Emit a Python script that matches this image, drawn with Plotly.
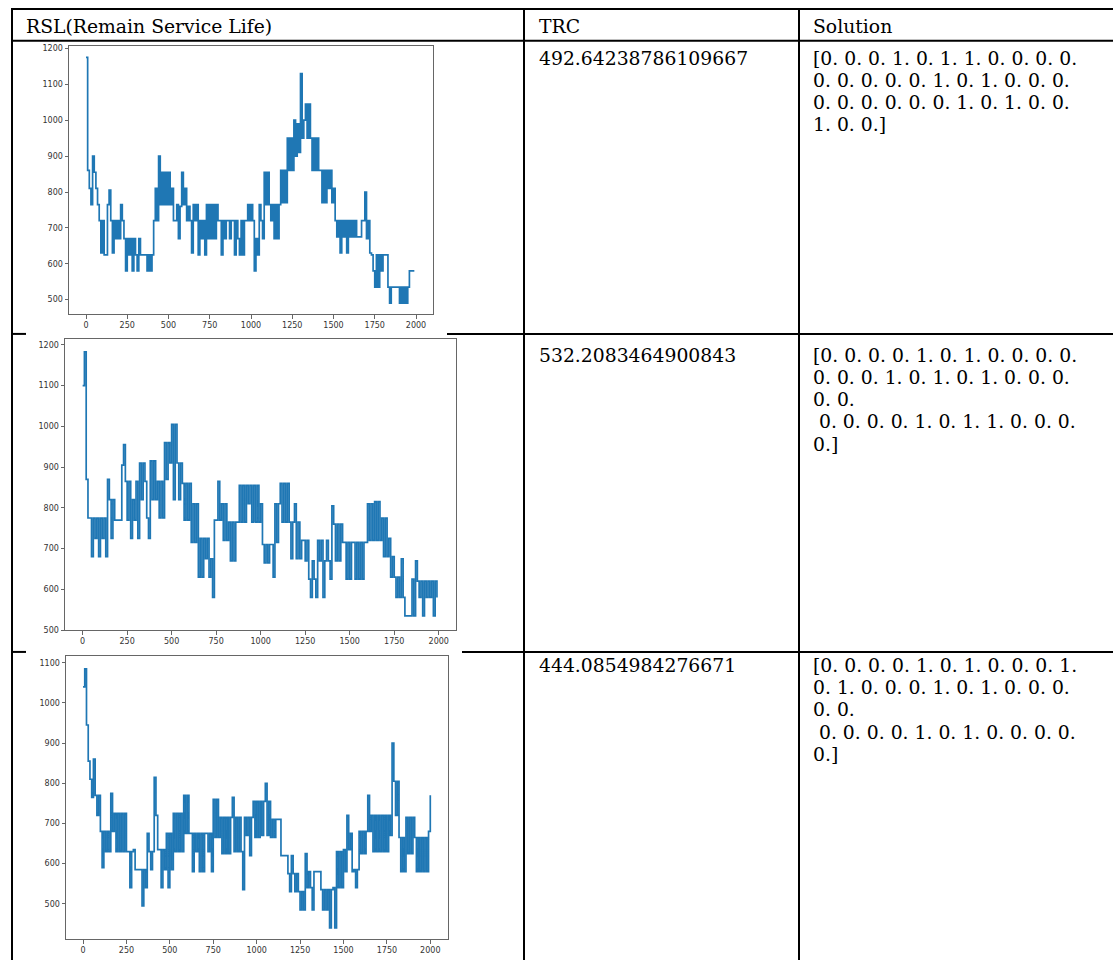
import plotly.graph_objects as go

W, H = 1113, 965

# ---------------- data ----------------
x_ticks = [0, 250, 500, 750, 1000, 1250, 1500, 1750, 2000]
y_ticks_12 = [500, 600, 700, 800, 900, 1000, 1100, 1200]
y_ticks_3 = [500, 600, 700, 800, 900, 1000, 1100]
sample_step = 10  # one value every 10 iterations

rsl_1 = [
    1175, 860, 810, 765, 900, 855, 810, 765, 720, 630,
    720, 625, 625, 765, 805, 720, 630, 720, 670, 720,
    670, 765, 720, 670, 580, 670, 625, 670, 580, 670,
    625, 580, 670, 625, 625, 625, 625, 580, 625, 580,
    625, 720, 810, 720, 900, 765, 855, 765, 855, 765,
    855, 765, 810, 720, 720, 765, 670, 760, 855, 765,
    810, 720, 760, 720, 630, 765, 720, 765, 625, 720,
    670, 720, 625, 765, 670, 765, 670, 765, 670, 765,
    720, 720, 625, 720, 670, 720, 720, 670, 720, 720,
    625, 720, 670, 625, 720, 625, 720, 720, 765, 720,
    765, 720, 580, 670, 625, 765, 720, 670, 855, 765,
    855, 765, 720, 765, 670, 765, 670, 765, 860, 770,
    860, 770, 950, 860, 950, 860, 1000, 900, 990, 910,
    1130, 950, 1000, 1045, 950, 1045, 950, 860, 950, 860,
    950, 860, 860, 770, 860, 770, 860, 810, 860, 770,
    810, 720, 675, 720, 630, 720, 675, 720, 630, 720,
    675, 720, 675, 720, 675, 675, 675, 720, 720, 800,
    670, 720, 630, 625, 580, 535, 625, 535, 625, 580,
    625, 625, 625, 535, 490, 535, 535, 535, 535, 535,
    490, 535, 490, 535, 490, 535, 580, 580, 580, 580,
]

rsl_2 = [
    1100, 1183, 870, 775, 775, 680, 775, 725, 775, 680,
    775, 725, 775, 680, 870, 820, 725, 820, 770, 770,
    770, 770, 905, 955, 865, 770, 865, 725, 820, 770,
    865, 725, 910, 820, 910, 865, 775, 725, 915, 820,
    915, 820, 865, 775, 865, 775, 960, 870, 960, 910,
    1005, 820, 1005, 910, 820, 910, 860, 770, 860, 770,
    860, 715, 810, 715, 810, 630, 725, 630, 725, 675,
    725, 630, 675, 580, 770, 770, 865, 770, 810, 720,
    810, 720, 765, 670, 765, 670, 765, 765, 855, 765,
    855, 765, 855, 810, 855, 765, 855, 765, 855, 765,
    810, 710, 665, 710, 665, 710, 710, 630, 810, 715,
    810, 860, 765, 860, 765, 860, 765, 675, 765, 810,
    675, 765, 675, 720, 720, 670, 720, 625, 580, 670,
    625, 580, 720, 670, 720, 580, 670, 720, 670, 625,
    805, 760, 670, 760, 670, 760, 715, 715, 625, 715,
    625, 715, 715, 625, 715, 625, 715, 625, 715, 715,
    810, 720, 810, 720, 815, 720, 815, 720, 775, 680,
    775, 680, 725, 630, 680, 630, 580, 630, 580, 675,
    580, 535, 535, 535, 535, 625, 535, 670, 620, 580,
    620, 535, 620, 580, 620, 580, 620, 535, 620, 580,
]

rsl_3 = [
    1040, 1085, 945, 855, 810, 765, 860, 770, 720, 770,
    680, 590, 680, 630, 680, 630, 775, 680, 725, 630,
    725, 630, 725, 630, 725, 630, 630, 540, 630, 635,
    585, 585, 585, 585, 495, 585, 540, 675, 630, 585,
    630, 815, 720, 635, 635, 540, 635, 585, 675, 540,
    675, 585, 725, 630, 725, 630, 725, 630, 770, 675,
    770, 675, 675, 580, 675, 630, 675, 580, 675, 580,
    675, 675, 630, 675, 580, 760, 665, 760, 665, 715,
    625, 715, 625, 715, 625, 715, 765, 630, 715, 630,
    715, 630, 535, 715, 670, 715, 620, 715, 755, 665,
    755, 665, 755, 670, 755, 800, 670, 755, 665, 710,
    665, 710, 710, 710, 620, 620, 620, 620, 575, 530,
    620, 575, 530, 575, 530, 485, 530, 485, 625, 540,
    580, 540, 485, 580, 580, 580, 580, 535, 485, 535,
    485, 535, 440, 535, 540, 440, 630, 540, 630, 540,
    635, 580, 720, 635, 675, 580, 585, 540, 585, 680,
    625, 680, 625, 680, 770, 680, 720, 630, 720, 630,
    720, 630, 720, 630, 720, 630, 720, 670, 900, 805,
    720, 805, 665, 580, 665, 580, 715, 625, 715, 625,
    715, 665, 580, 665, 580, 665, 580, 665, 580, 680,
    770,
]

header_labels = ["RSL(Remain Service Life)", "TRC", "Solution"]
trc_values = ["492.64238786109667", "532.2083464900843", "444.0854984276671"]
solution_lines = [
    ["[0. 0. 0. 1. 0. 1. 1. 0. 0. 0. 0.",
     "0. 0. 0. 0. 0. 1. 0. 1. 0. 0. 0.",
     "0. 0. 0. 0. 0. 0. 1. 0. 1. 0. 0.",
     "1. 0. 0.]"],
    ["[0. 0. 0. 0. 1. 0. 1. 0. 0. 0. 0.",
     "0. 0. 0. 1. 0. 1. 0. 1. 0. 0. 0.",
     "0. 0.",
     "\u00a00. 0. 0. 0. 1. 0. 1. 1. 0. 0. 0.",
     "0.]"],
    ["[0. 0. 0. 0. 1. 0. 1. 0. 0. 0. 1.",
     "0. 1. 0. 0. 0. 1. 0. 1. 0. 0. 0.",
     "0. 0.",
     "\u00a00. 0. 0. 0. 1. 0. 1. 0. 0. 0. 0.",
     "0.]"],
]

# ---------------- layout helpers ----------------
def px(x):
    return x / W


def py(y):
    return 1 - y / H


# plot areas in page pixels: (left, right, top, bottom)
boxes = [(69, 433, 45, 315), (65, 456, 340, 633), (66, 448, 659, 944)]
x_ranges = [(-103, 2103), (-99, 2097), (-98, 2102)]
y_ranges = [(460, 1207.5), (500, 1214.6), (412, 1117)]
y_tick_sets = [y_ticks_12, y_ticks_12, y_ticks_3]
series = [rsl_1, rsl_2, rsl_3]

fig = go.Figure()
line_color = "#1f77b4"
spine = "#666666"
tickfont = dict(family="DejaVu Sans", size=8, color="#333333")

for k in range(3):
    sx = "" if k == 0 else str(k + 1)
    fig.add_trace(go.Scatter(
        x0=0, dx=sample_step, y=series[k], mode="lines",
        line=dict(color=line_color, width=1.7, shape="hv"),
        xaxis="x" + sx, yaxis="y" + sx, showlegend=False, hoverinfo="skip",
    ))
    l, r, t, b = boxes[k]
    fig.layout["xaxis" + sx] = dict(
        domain=[px(l), px(r)], range=list(x_ranges[k]), anchor="y" + sx,
        tickvals=x_ticks, ticks="outside", ticklen=3.5, tickwidth=1,
        tickcolor=spine, showline=True, mirror=True, linecolor=spine,
        linewidth=1, showgrid=False, zeroline=False, tickfont=tickfont,
    )
    fig.layout["yaxis" + sx] = dict(
        domain=[py(b), py(t)], range=list(y_ranges[k]), anchor="x" + sx,
        tickvals=y_tick_sets[k], ticks="outside", ticklen=3.5, tickwidth=1,
        tickcolor=spine, showline=True, mirror=True, linecolor=spine,
        linewidth=1, showgrid=False, zeroline=False, tickfont=tickfont,
    )

# ---------------- table lines ----------------
shapes = []


def hline(y, x0, x1, w=2):
    shapes.append(dict(type="line", xref="paper", yref="paper",
                       x0=px(x0), x1=px(x1), y0=py(y), y1=py(y),
                       line=dict(color="black", width=w)))


def vline(x, y0, y1, w=2):
    shapes.append(dict(type="line", xref="paper", yref="paper",
                       x0=px(x), x1=px(x), y0=py(y0), y1=py(y1),
                       line=dict(color="black", width=w)))


hline(8, 11, W)
hline(40, 11, W)
hline(335, 11, 26)
hline(335, 447, W)
hline(655, 11, 26)
hline(655, 462, W)
vline(12, 7, H)
vline(524, 7, H)
vline(799, 7, H)
fig.update_layout(shapes=shapes)

# ---------------- table text ----------------
FS = 18.8
serif = dict(family="DejaVu Serif", size=FS, color="black")
ann = []


def text(x, y, s, anchor="middle"):
    ann.append(dict(text=s, x=px(x), y=py(y), xref="paper", yref="paper",
                    xanchor="left", yanchor=anchor, showarrow=False,
                    font=serif, borderpad=0))


text(25, 26, header_labels[0])
text(538, 26, header_labels[1])
text(812, 26, header_labels[2])

row_first = [58, 357, 669]
spacing = 22.2
for k in range(3):
    text(538, row_first[k], trc_values[k])
    for j, s in enumerate(solution_lines[k]):
        text(812, row_first[k] + j * spacing, s)

fig.update_layout(
    annotations=ann,
    width=W, height=H, margin=dict(l=0, r=0, t=0, b=0),
    paper_bgcolor="white", plot_bgcolor="white",
)

fig.write_html(
    "out.html",
    config={"displayModeBar": False},
    post_script="document.body.style.margin='0';document.body.style.overflow='hidden';",
)
